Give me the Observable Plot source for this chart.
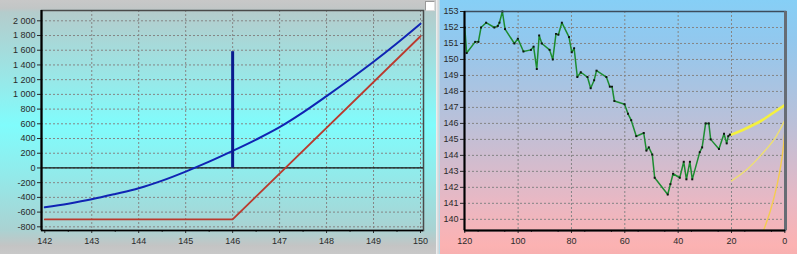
<!DOCTYPE html>
<html><head><meta charset="utf-8">
<script src="https://cdn.jsdelivr.net/npm/d3@7"></script>
<script src="https://cdn.jsdelivr.net/npm/@observablehq/plot@0.6"></script>
<style>
html,body{margin:0;padding:0;width:797px;height:254px;overflow:hidden;background:#d0d0d0}
#wrap{position:relative;width:797px;height:254px;display:flex}
#left{width:436px;height:254px;position:relative;
 background:linear-gradient(to bottom,#c8c8c8 0px,#c2c6c6 8px,#b4cccc 12px,#98e8e8 80px,#80fcfc 125px,#90ecec 170px,#aad2d2 230px,#c4c4c4 246px,#c8c8c8 254px)}
#sep{width:4px;height:254px;background:linear-gradient(to right,#f4f4f4,#e0e0e0,#cfd8dc,#a8dcf0)}
#right{width:357px;height:254px;position:relative;
 background:linear-gradient(to bottom,#86cff6 0px,#92c8ee 40px,#bcc0d8 125px,#e8b8c4 200px,#fcb2b2 246px,#f8b0b0 254px)}
svg{position:absolute;left:0;top:0}
#chk{position:absolute;left:425px;top:1px;width:8px;height:8px;background:#fff;border:1px solid #999;border-right-color:#ddd;border-bottom-color:#ddd}
</style></head>
<body>
<div id="wrap"><div id="left"><div id="chk"></div></div><div id="sep"></div><div id="right"></div></div>
<script>
// ---- Left chart: option payoff ----
const priceTicks = [142,143,144,145,146,147,148,149,150];
const pnlTicks = [-800,-600,-400,-200,0,200,400,600,800,1000,1200,1400,1600,1800,2000];
const curveX = [142,142.5,143,143.5,144,144.5,145,145.5,146,146.5,147,147.5,148,148.5,149,149.5,150];
const curveY = [-535,-485,-426,-354,-276,-172,-49,85,231,385,554,755,976,1205,1443,1695,1960];
const expiryX = [142,146,150];
const expiryY = [-700,-700,1790];
const spotPrice = [146];
const spotBarTop = [1580];

// ---- Right chart: price history and forecasts ----
const dayTicks = [120,100,80,60,40,20,0];
const histTicks = [140,141,142,143,144,145,146,147,148,149,150,151,152,153];
const histDays = [120.0,119.3,116.1,114.9,113.9,112.0,108.9,107.6,107.0,105.9,104.9,101.4,100.1,98.0,95.2,94.2,93.0,92.1,91.1,88.2,87.0,85.8,84.9,83.6,80.9,79.9,79.0,77.8,76.5,74.0,72.8,71.5,70.6,66.9,65.6,64.8,63.9,60.1,58.8,57.6,55.7,52.9,51.9,51.0,49.7,48.8,43.9,42.9,41.9,39.4,37.9,36.9,35.6,34.7,31.9,31.0,29.7,28.5,27.8,24.7,22.8,21.8,21.2,20.6];
const histPrice = [152.0,150.4,151.1,151.1,152.0,152.3,152.0,152.1,152.3,153.0,151.9,151.0,151.3,150.5,150.6,150.8,149.4,151.5,151.0,150.6,150.0,151.6,151.55,152.3,151.4,150.45,150.7,148.9,149.2,148.9,148.2,148.7,149.3,148.9,148.3,148.3,147.4,147.2,146.6,146.2,145.2,145.4,144.3,144.5,144.05,142.6,141.55,142.2,142.85,142.6,143.6,142.5,143.6,142.5,144.2,144.5,146.0,146.0,145.0,144.4,145.35,144.75,145.2,145.3];
const fcA_days = [20,15,9,4,0];
const fcA = [145.3,145.65,146.15,146.7,147.15];
const fcB_days = [20,14,9,4,0];
const fcB = [142.4,143.15,144.0,145.0,146.2];
const fcC_days = [8.2,5.4,2.85,1.0,0.1,0];
const fcC = [139.2,140.55,142.2,143.9,145.35,146.0];

const zip = (xs, ys) => xs.map((x,i) => ({x, y: ys[i]}));
const fmtK = d => (d < 0 ? "-" : "") + d3.format(",")(Math.abs(d)).replace(/,/g, " ");
const font = {background:"transparent", fontFamily:"'Liberation Sans', Arial, sans-serif", fontSize:"9px", color:"#2a2a2a", overflow:"visible"};
const grid = {stroke:"#858585", strokeOpacity:1, strokeDasharray:"2,2", strokeWidth:1};

const left = Plot.plot({
  width:436, height:254, marginLeft:41, marginRight:13, marginTop:10, marginBottom:24,
  style: font,
  x:{domain:[141.93,150.064]},
  y:{domain:[-850,2140]},
  marks:[
    Plot.gridX(priceTicks.slice(1), grid),
    Plot.gridY(pnlTicks, grid),
    Plot.axisY(pnlTicks, {tickSize:4, tickPadding:2, tickFormat:fmtK, label:null}),
    Plot.axisX(priceTicks, {tickSize:3, tickPadding:4, tickFormat:d=>d, label:null}),
    Plot.axisX(d3.range(142.5,150,1), {tickSize:2, tickFormat:()=> "", label:null}),
    Plot.ruleY([0], {stroke:"#111", strokeWidth:1.3}),
    Plot.line(zip(expiryX, expiryY), {x:"x", y:"y", stroke:"#bb3a2e", strokeWidth:1.8}),
    Plot.line(zip(curveX, curveY), {x:"x", y:"y", stroke:"#1024b4", strokeWidth:2, curve:"catmull-rom"}),
    Plot.ruleX(spotPrice, {y1:0, y2:spotBarTop[0], stroke:"#0a1a8e", strokeWidth:3}),
    Plot.frame({stroke:"#4a4a4a", strokeWidth:1.5}),
    Plot.ruleX([141.93], {stroke:"#000", strokeWidth:2.2}),
    Plot.ruleY([-850], {stroke:"#000", strokeWidth:1.5})
  ]
});
document.getElementById("left").appendChild(left);

const right = Plot.plot({
  width:357, height:254, marginLeft:24, marginRight:12, marginTop:11, marginBottom:24,
  style: font,
  x:{domain:[120.1,-0.25]},
  y:{domain:[139.3,153]},
  marks:[
    Plot.gridX(dayTicks.slice(1,-1), grid),
    Plot.gridY(histTicks, grid),
    Plot.axisY(histTicks, {tickSize:4, tickPadding:2, label:null}),
    Plot.axisX(dayTicks, {tickSize:3, tickPadding:4, label:null}),
    Plot.axisX(d3.range(5,120,10), {tickSize:2, tickFormat:()=> "", label:null}),
    Plot.line(zip(fcC_days, fcC), {x:"x", y:"y", stroke:"#f4cc50", strokeWidth:1.4, curve:"catmull-rom", clip:true}),
    Plot.line(zip(fcB_days, fcB), {x:"x", y:"y", stroke:"#eee070", strokeWidth:1.4, curve:"catmull-rom", clip:true}),
    Plot.line(zip(fcA_days, fcA), {x:"x", y:"y", stroke:"#f4f040", strokeWidth:2.6, curve:"catmull-rom", clip:true}),
    Plot.line(zip(histDays, histPrice), {x:"x", y:"y", stroke:"#1c8c30", strokeWidth:1.5}),
    Plot.dot(zip(histDays, histPrice), {x:"x", y:"y", symbol:"square", r:1.1, fill:"#111", stroke:null}),
    Plot.frame({stroke:"#3c4c5c", strokeWidth:1.5}),
    Plot.ruleX([-0.25], {stroke:"#666c74", strokeWidth:3}),
    Plot.ruleX([120.1], {stroke:"#000", strokeWidth:2}),
    Plot.ruleY([139.3], {stroke:"#000", strokeWidth:2})
  ]
});
document.getElementById("right").appendChild(right);
</script>
</body></html>
